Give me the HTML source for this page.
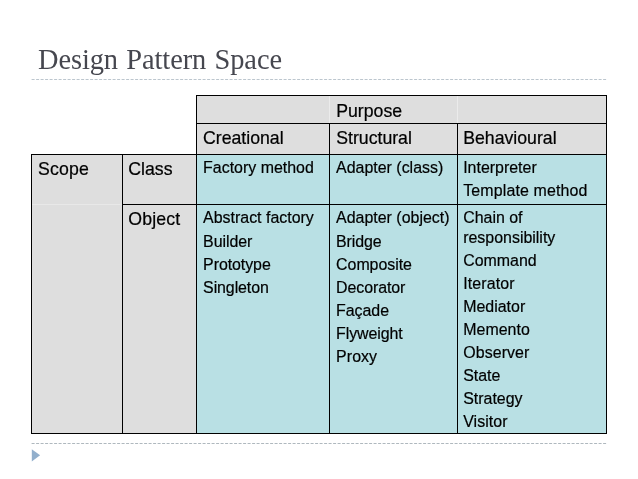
<!DOCTYPE html>
<html>
<head>
<meta charset="utf-8">
<title>Design Pattern Space</title>
<style>
html,body{margin:0;padding:0;background:#fff;}
body{width:638px;height:479px;position:relative;overflow:hidden;font-family:"Liberation Sans",Arial,sans-serif;color:#111;}
.abs{position:absolute;}
.title{will-change:transform;left:37.5px;top:42.5px;font-family:"Liberation Serif","Times New Roman",serif;font-size:28.4px;line-height:34px;color:#46474f;white-space:nowrap;letter-spacing:-0.08px;word-spacing:1.35px;}
.dash{left:31px;width:576px;height:0;border-top:1px dashed #a9c3d2;}
.cell{position:absolute;box-sizing:border-box;}
.grey{background:#dedede;}
.blue{background:#b9e0e4;}
.ln{position:absolute;background:#000;}
.h{-webkit-text-stroke:0.22px #000;color:#000;position:absolute;font-size:17.7px;line-height:21px;white-space:nowrap;}
.t{-webkit-text-stroke:0.2px #000;color:#000;position:absolute;font-size:15.95px;line-height:19px;white-space:nowrap;}
</style>
</head>
<body>
<div class="abs title">Design Pattern Space</div>
<svg class="abs" style="left:0;top:0" width="638" height="479" viewBox="0 0 638 479">
  <line x1="31.6" y1="79.5" x2="607.6" y2="79.5" stroke="#abb8c2" stroke-width="0.8" stroke-dasharray="3 1.5"/>
  <line x1="31.6" y1="443.5" x2="607.6" y2="443.5" stroke="#a6b0b7" stroke-width="0.9" stroke-dasharray="3 1.5"/>
  <polygon points="31.8,449.2 40.1,455.3 31.8,461.4" fill="#92afcc"/>
</svg>

<!-- fills -->
<div class="cell grey" style="left:196px;top:95px;width:411px;height:60px;"></div>
<div class="cell grey" style="left:31px;top:154px;width:166px;height:280px;"></div>
<div class="cell blue" style="left:197px;top:155px;width:410px;height:279px;"></div>

<!-- subtle light separators -->
<div class="ln" style="left:329px;top:96px;width:1px;height:27px;background:rgba(255,255,255,.4);"></div>
<div class="ln" style="left:457px;top:96px;width:1px;height:27px;background:rgba(255,255,255,.4);"></div>
<div class="ln" style="left:32px;top:204px;width:90px;height:1px;background:rgba(255,255,255,.3);"></div>

<!-- horizontal lines -->
<div class="ln" style="left:196px;top:95px;width:411px;height:1px;"></div>
<div class="ln" style="left:196px;top:123px;width:411px;height:1px;"></div>
<div class="ln" style="left:31px;top:154px;width:576px;height:1px;"></div>
<div class="ln" style="left:122px;top:204px;width:485px;height:1px;"></div>
<div class="ln" style="left:31px;top:433px;width:576px;height:1px;"></div>
<!-- vertical lines -->
<div class="ln" style="left:31px;top:154px;width:1px;height:280px;"></div>
<div class="ln" style="left:122px;top:154px;width:1px;height:280px;"></div>
<div class="ln" style="left:196px;top:95px;width:1px;height:339px;"></div>
<div class="ln" style="left:329px;top:123px;width:1px;height:311px;"></div>
<div class="ln" style="left:457px;top:123px;width:1px;height:311px;"></div>
<div class="ln" style="left:606px;top:95px;width:1px;height:339px;"></div>

<div id="txt" style="position:absolute;left:0;top:0;width:638px;height:479px;will-change:transform;">
<!-- header text -->
<div class="h" style="left:336.20px;top:101.00px;">Purpose</div>
<div class="h" style="left:203.00px;top:128.00px;">Creational</div>
<div class="h" style="left:336.20px;top:128.00px;">Structural</div>
<div class="h" style="left:463.20px;top:128.00px;">Behavioural</div>
<div class="h" style="left:38.00px;top:158.60px;letter-spacing:0.15px;">Scope</div>
<div class="h" style="left:128.30px;top:158.60px;">Class</div>
<div class="h" style="left:128.30px;top:208.60px;letter-spacing:0.14px;">Object</div>

<!-- row 3 -->
<div class="t" style="left:203.10px;top:157.80px;">Factory method</div>
<div class="t" style="left:336.10px;top:157.80px;">Adapter (class)</div>
<div class="t" style="left:463.20px;top:157.80px;">Interpreter</div>
<div class="t" style="left:463.20px;top:180.95px;letter-spacing:0.14px;">Template method</div>

<!-- row 4 col 1 -->
<div class="t" style="left:203.10px;top:208.40px;">Abstract factory</div>
<div class="t" style="left:203.10px;top:232.30px;letter-spacing:-0.07px;">Builder</div>
<div class="t" style="left:203.10px;top:255.20px;letter-spacing:-0.07px;">Prototype</div>
<div class="t" style="left:203.10px;top:278.10px;letter-spacing:-0.09px;">Singleton</div>

<!-- row 4 col 2 -->
<div class="t" style="left:336.10px;top:208.40px;">Adapter (object)</div>
<div class="t" style="left:336.10px;top:232.30px;letter-spacing:-0.1px;">Bridge</div>
<div class="t" style="left:336.10px;top:255.20px;letter-spacing:-0.045px;">Composite</div>
<div class="t" style="left:336.10px;top:278.10px;letter-spacing:-0.09px;">Decorator</div>
<div class="t" style="left:336.10px;top:301.00px;letter-spacing:-0.05px;">Façade</div>
<div class="t" style="left:336.10px;top:323.90px;letter-spacing:-0.08px;">Flyweight</div>
<div class="t" style="left:336.10px;top:346.80px;letter-spacing:0.06px;">Proxy</div>

<!-- row 4 col 3 -->
<div class="t" style="left:463.20px;top:208.20px;">Chain of</div>
<div class="t" style="left:463.20px;top:228.20px;">responsibility</div>
<div class="t" style="left:463.20px;top:250.80px;">Command</div>
<div class="t" style="left:463.20px;top:273.85px;letter-spacing:0.125px;">Iterator</div>
<div class="t" style="left:463.20px;top:296.90px;">Mediator</div>
<div class="t" style="left:463.20px;top:319.95px;letter-spacing:0.035px;">Memento</div>
<div class="t" style="left:463.20px;top:343.00px;letter-spacing:0.09px;">Observer</div>
<div class="t" style="left:463.20px;top:366.05px;">State</div>
<div class="t" style="left:463.20px;top:389.10px;">Strategy</div>
<div class="t" style="left:463.20px;top:412.15px;letter-spacing:0.07px;">Visitor</div>
</div>
</body>
</html>
